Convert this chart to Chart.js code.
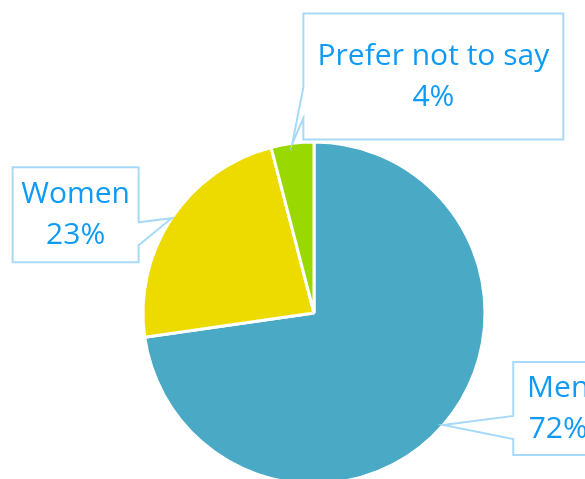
<!DOCTYPE html>
<html>
<head>
<meta charset="utf-8">
<script src="https://cdn.jsdelivr.net/npm/chart.js@4.4.1/dist/chart.umd.min.js"></script>
<style>
  html, body { margin: 0; padding: 0; background: #fff; overflow: hidden; }
  #wrap { width: 585px; height: 490px; }
</style>
</head>
<body>
<div id="wrap"><canvas id="chartPie" width="585" height="490"></canvas></div>
<script>
const labels = ["Men", "Women", "Prefer not to say"];
const values = [72, 23, 4];
const colors = ["#4aaac5", "#eddb00", "#99d800"];

// callout box placement, relative to the point on the arc edge
const callouts = [
    { dx: 70, dy: -63, w: 90, h: 93, side: "left", p1: 54, p2: 77 },
    { dx: -159, dy: -51, w: 126, h: 95, side: "right", p1: 55, p2: 78 },
    { dx: 11, dy: -130, w: 260, h: 126, side: "left", p1: 74, p2: 105 }
];

const calloutPlugin = {
    id: "callouts",
    afterDatasetsDraw(chart) {
        const ctx = chart.ctx;
        const arcs = chart.getDatasetMeta(0).data;
        arcs.forEach((arc, i) => {
            const p = arc.getProps(["x", "y", "startAngle", "endAngle", "outerRadius"], true);
            const mid = (p.startAngle + p.endAngle) / 2;
            const tx = p.x + Math.cos(mid) * p.outerRadius;
            const ty = p.y + Math.sin(mid) * p.outerRadius;
            const c = callouts[i];
            const bx = tx + c.dx, by = ty + c.dy;

            ctx.save();
            ctx.beginPath();
            if (c.side === "left") {
                ctx.moveTo(bx, by);
                ctx.lineTo(bx + c.w, by);
                ctx.lineTo(bx + c.w, by + c.h);
                ctx.lineTo(bx, by + c.h);
                ctx.lineTo(bx, by + c.p2);
                ctx.lineTo(tx, ty);
                ctx.lineTo(bx, by + c.p1);
            } else {
                ctx.moveTo(bx, by);
                ctx.lineTo(bx + c.w, by);
                ctx.lineTo(bx + c.w, by + c.p1);
                ctx.lineTo(tx, ty);
                ctx.lineTo(bx + c.w, by + c.p2);
                ctx.lineTo(bx + c.w, by + c.h);
                ctx.lineTo(bx, by + c.h);
            }
            ctx.closePath();
            ctx.fillStyle = "#ffffff";
            ctx.fill();
            ctx.lineWidth = 2;
            ctx.strokeStyle = "#a6daf8";
            ctx.stroke();

            ctx.fillStyle = "#0f9bf5";
            ctx.font = "30px 'Open Sans'";
            ctx.textAlign = "center";
            ctx.textBaseline = "middle";
            const cx = bx + c.w / 2, cy = by + c.h / 2;
            ctx.fillText(labels[i], cx, cy - 20);
            ctx.fillText(values[i] + "%", cx, cy + 21);
            ctx.restore();
        });
    }
};

const ctx = document.getElementById("chartPie").getContext("2d");
new Chart(ctx, {
    type: "pie",
    data: {
        labels: labels,
        datasets: [{
            data: values,
            backgroundColor: colors,
            borderColor: "#ffffff",
            borderWidth: 3
        }]
    },
    options: {
        responsive: false,
        animation: false,
        radius: 171,
        layout: { padding: { left: 143, right: 100, top: 142, bottom: 6 } },
        plugins: {
            legend: { display: false },
            tooltip: { enabled: false }
        }
    },
    plugins: [calloutPlugin]
});
</script>
</body>
</html>
